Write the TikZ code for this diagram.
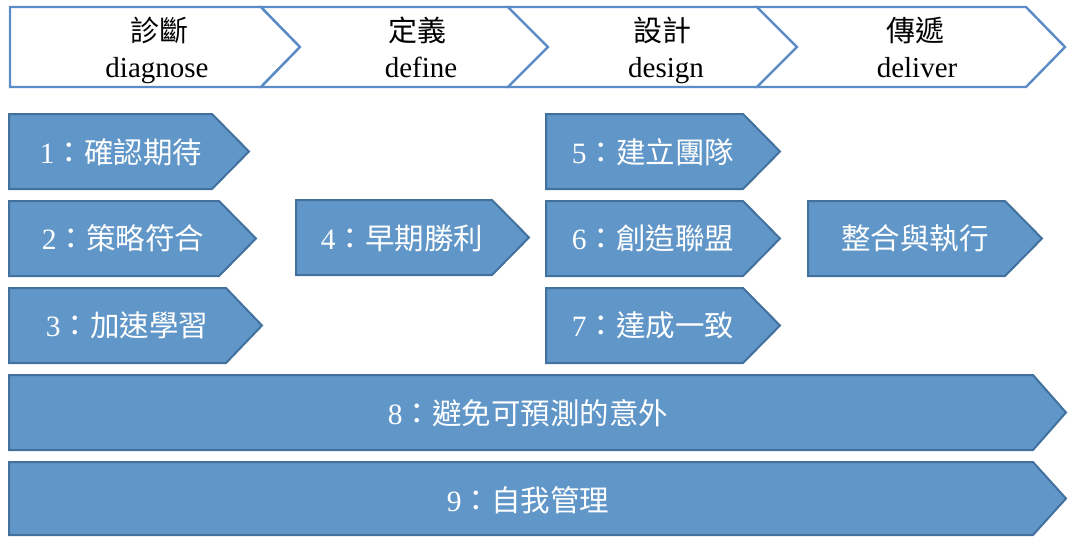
\documentclass[tikz,border=0pt]{standalone}
\usepackage{fontspec}
\setmainfont{Liberation Serif}
\newfontfamily\zh{Noto Sans CJK TC}
\definecolor{topline}{HTML}{5B8CC6}
\definecolor{boxfill}{HTML}{6096C8}
\definecolor{boxline}{HTML}{41719C}
\newcommand\arrowshape[7]{% style, x1, shoulder, tip, y1, y2, notch
  \path[#1] ({#2},{#5}) -- ({#3},{#5}) -- ({#4},{(#5+#6)/2}) -- ({#3},{#6}) -- ({#2},{#6}) -- ({#2+#7},{(#5+#6)/2}) -- cycle;}
\begin{document}
\begin{tikzpicture}[x=1pt,y=-1pt,
  phase/.style={draw=topline,line width=2.4pt,fill=white,line join=miter},
  step box/.style={draw=boxline,line width=2pt,fill=boxfill,line join=miter},
  phase text/.style={text=black,anchor=base,font=\fontsize{29}{37}\selectfont,inner sep=0pt},
  box text/.style={text=white,font=\fontsize{29.5}{34}\selectfont,inner sep=0pt}]
\useasboundingbox (0,0) rectangle (1068,536);
% top phase chevrons
\arrowshape{phase}{10}{261}{300}{7}{87}{0}
\arrowshape{phase}{261}{508}{548}{7}{87}{39}
\arrowshape{phase}{508}{757}{797}{7}{87}{40}
\arrowshape{phase}{757}{1026}{1065}{7}{87}{40}
\node[phase text] (p1) at (159,41) {\zh 診斷};
\node[phase text] (p1e) at (157,77) {diagnose};
\node[phase text] (p2) at (417,41) {\zh 定義};
\node[phase text] (p2e) at (421,77) {define};
\node[phase text] (p3) at (662,41) {\zh 設計};
\node[phase text] (p3e) at (666,77) {design};
\node[phase text] (p4) at (915,41) {\zh 傳遞};
\node[phase text] (p4e) at (917,77) {deliver};
% step boxes
\arrowshape{step box}{9}{212}{249}{114}{189}{0}
\arrowshape{step box}{9}{219}{256}{201}{276}{0}
\arrowshape{step box}{9}{226}{262}{288}{363}{0}
\arrowshape{step box}{296}{492}{529}{200}{275}{0}
\arrowshape{step box}{546}{743}{780}{114}{189}{0}
\arrowshape{step box}{546}{743}{780}{201}{276}{0}
\arrowshape{step box}{546}{743}{780}{288}{363}{0}
\arrowshape{step box}{808}{1005}{1042}{201}{276}{0}
\arrowshape{step box}{9}{1033}{1066}{375}{450}{0}
\arrowshape{step box}{9}{1033}{1066}{462}{535}{0}
\node[box text] (s1) at (121,152) {1{\zh ：確認期待}};
\node[box text] (s2) at (123,238) {2{\zh ：策略符合}};
\node[box text] (s3) at (127,325) {3{\zh ：加速學習}};
\node[box text] (s4) at (402,238) {4{\zh ：早期勝利}};
\node[box text] (s5) at (653,152) {5{\zh ：建立團隊}};
\node[box text] (s6) at (653,238) {6{\zh ：創造聯盟}};
\node[box text] (s7) at (653,325) {7{\zh ：達成一致}};
\node[box text] (s0) at (915,238) {{\zh 整合與執行}};
\node[box text] (s8) at (528,413) {8{\zh ：避免可預測的意外}};
\node[box text] (s9) at (528,500) {9{\zh ：自我管理}};
\end{tikzpicture}
\end{document}
